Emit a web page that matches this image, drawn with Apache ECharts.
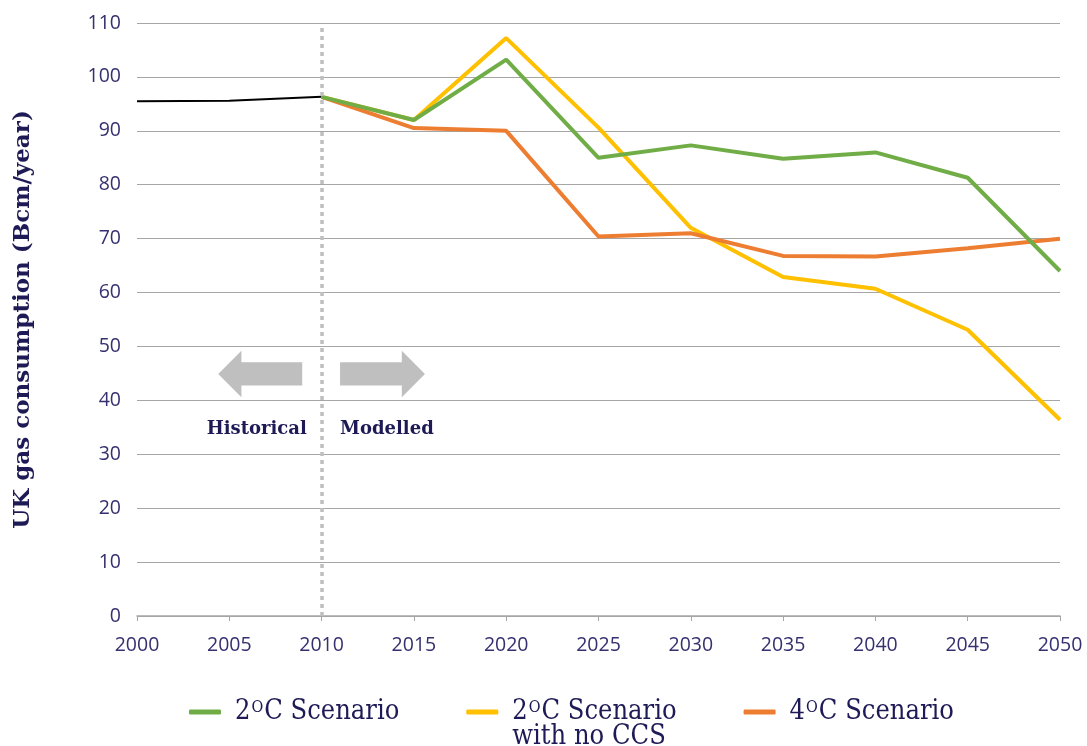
<!DOCTYPE html>
<html><head><meta charset="utf-8">
<script src="https://cdn.jsdelivr.net/npm/echarts@6/dist/echarts.min.js"></script>
<style>html,body{margin:0;padding:0;background:#fff}#c{width:1087px;height:746px}</style>
</head><body><div id="c"></div>
<script>
const years = [2000, 2005, 2010, 2015, 2020, 2025, 2030, 2035, 2040, 2045, 2050];
const historical = [95.5, 95.6, 96.3];
const scenario2C = [96.3, 92.0, 103.2, 85.0, 87.3, 84.8, 86.0, 81.3, 64.0];
const scenario2CnoCCS = [96.3, 92.0, 107.2, 90.6, 72.0, 62.9, 60.7, 53.1, 36.4];
const scenario4C = [96.3, 90.5, 90.0, 70.4, 71.0, 66.8, 66.7, 68.2, 70.0];
const seriesNames = ['2{sup|O}C Scenario', '2{sup|O}C Scenario\nwith no CCS', '4{sup|O}C Scenario'];
const yTitle = 'UK gas consumption (Bcm/year)';

const histYears = years.slice(0, 3);
const modYears = years.slice(2);
const pair = (xs, ys) => xs.map((x, i) => [x, ys[i]]);

const navy = '#1d1a55';
const tickColor = '#35306f';
const serif = '"DejaVu Serif", "Liberation Serif", serif';
const serifC = '"DejaVu Serif Condensed", "DejaVu Serif", serif';
const sans = '"Open Sans", "Noto Sans", sans-serif';

const chart = echarts.init(document.getElementById('c'), null, {renderer: 'canvas'});
const nameMap = {g: seriesNames[0], y: seriesNames[1], o: seriesNames[2]};
const LH = 25;
const iconH = 5;
const iconCenterY = 712;
// yellow item's text box (3*LH incl. top padding) is centred on the icon
const legendTop = iconCenterY - iconH / 2 - (1.5 * LH - iconH / 2);

chart.setOption({
  animation: false,
  backgroundColor: '#fff',
  grid: {left: 137, right: 27, top: 23, bottom: 130},
  legend: {
    data: [{name: 'g'}, {name: 'y', textStyle: {padding: [LH, 0, 0, 9]}}, {name: 'o'}],
    top: legendTop,
    left: 189,
    padding: 0,
    itemGap: 67,
    itemWidth: 32,
    itemHeight: iconH,
    icon: 'roundRect',
    formatter: n => nameMap[n],
    textStyle: {
      fontFamily: serifC, fontSize: 27, color: navy, lineHeight: LH, padding: [0, 0, 0, 9],
      rich: {sup: {fontFamily: serifC, fontSize: 16, color: navy, lineHeight: 12, verticalAlign: 'top', padding: [0, 1, 0, 1]}}
    }
  },
  xAxis: {
    type: 'value', min: 2000, max: 2050, interval: 5,
    axisLine: {show: true, lineStyle: {color: '#a6a6a6', width: 1.5}},
    axisTick: {show: true, length: 5, lineStyle: {color: '#a6a6a6'}},
    splitLine: {show: false},
    axisLabel: {color: tickColor, fontFamily: sans, fontSize: 19.5, margin: 19, formatter: v => String(v)}
  },
  yAxis: {
    type: 'value', min: 0, max: 110, interval: 10,
    name: yTitle, nameLocation: 'middle', nameGap: 102, nameRotate: 90,
    nameTextStyle: {fontFamily: serif, fontWeight: 'bold', fontSize: 23, color: navy},
    axisLine: {show: false}, axisTick: {show: false},
    splitLine: {lineStyle: {color: '#a6a6a6', width: 1.2}},
    axisLabel: {color: tickColor, fontFamily: sans, fontSize: 19.5, margin: 16}
  },
  series: [
    {name: 'hist', type: 'line', data: pair(histYears, historical), symbol: 'none',
     lineStyle: {color: '#000', width: 2}, z: 3,
     markLine: {silent: true, symbol: 'none', label: {show: false},
       lineStyle: {color: '#bfbfbf', type: [4, 4], width: 3.5},
       data: [[{coord: [2010, 0]}, {coord: [2010, 109.3]}]]}},
    {name: 'g', type: 'line', data: pair(modYears, scenario2C), symbol: 'none',
     itemStyle: {color: '#70ad47'}, lineStyle: {color: '#70ad47', width: 4}, z: 4},
    {name: 'y', type: 'line', data: pair(modYears, scenario2CnoCCS), symbol: 'none',
     itemStyle: {color: '#ffc000'}, lineStyle: {color: '#ffc000', width: 4}, z: 3},
    {name: 'o', type: 'line', data: pair(modYears, scenario4C), symbol: 'none',
     itemStyle: {color: '#ed7d31'}, lineStyle: {color: '#ed7d31', width: 4}, z: 3}
  ]
});

// annotations anchored via the chart's own scales
function px(x, y) { return chart.convertToPixel({gridIndex: 0}, [x, y]); }
function arrow(x0, x1, yTop, yBot, dir) {
  const a = px(x0, yTop), b = px(x1, yBot);
  const l = a[0], r = b[0], t = a[1], btm = b[1];
  const h = btm - t, mid = (t + btm) / 2, head = h * 0.5, shaft = h * 0.25;
  let pts;
  if (dir < 0) {
    pts = [[l, mid], [l + head, t], [l + head, mid - shaft], [r, mid - shaft], [r, mid + shaft], [l + head, mid + shaft], [l + head, btm]];
  } else {
    pts = [[r, mid], [r - head, t], [r - head, mid - shaft], [l, mid - shaft], [l, mid + shaft], [r - head, mid + shaft], [r - head, btm]];
  }
  return {type: 'polygon', shape: {points: pts}, style: {fill: '#bfbfbf'}, z: 10};
}
const tH = px(2009.2, 34.6), tM = px(2011.0, 34.6);
chart.setOption({
  graphic: [
    arrow(2004.4, 2008.95, 49.2, 40.6, -1),
    arrow(2011.0, 2015.6, 49.2, 40.6, 1),
    {type: 'text', x: tH[0], y: tH[1], z: 10, style: {text: 'Historical', fontFamily: serif, fontWeight: 'bold', fontSize: 18, fill: navy, align: 'right', verticalAlign: 'middle'}},
    {type: 'text', x: tM[0], y: tM[1], z: 10, style: {text: 'Modelled', fontFamily: serif, fontWeight: 'bold', fontSize: 18, fill: navy, align: 'left', verticalAlign: 'middle'}}
  ]
});
</script></body></html>
